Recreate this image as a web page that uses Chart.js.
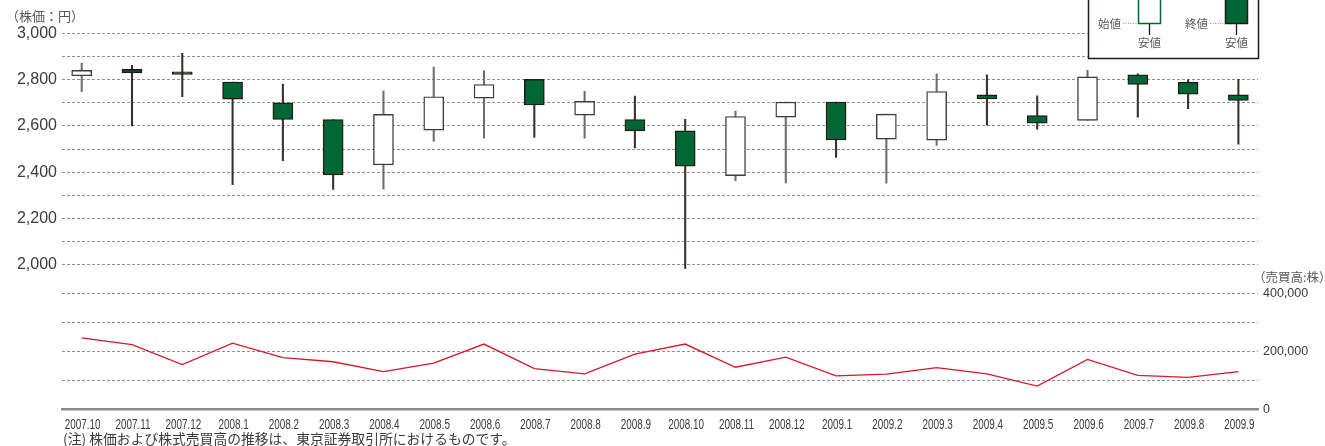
<!DOCTYPE html>
<html>
<head>
    <meta charset="utf-8">
    <title>株価および株式売買高の推移</title>
    <script src="https://cdn.jsdelivr.net/npm/chart.js@4.4.3/dist/chart.umd.min.js"></script>
    <style>
        body {
            margin: 0;
            background: #fff;
        }

        .wrap {
            width: 1325px;
            height: 446px;
            position: relative;
        }
    </style>
</head>

<body>
    <div class="wrap">
        <canvas id="stockchart"></canvas>
    </div>

    <script>
        // months on the x axis
        const months = ['2007.10', '2007.11', '2007.12', '2008.1', '2008.2', '2008.3', '2008.4', '2008.5',
            '2008.6', '2008.7', '2008.8', '2008.9', '2008.10', '2008.11', '2008.12', '2009.1',
            '2009.2', '2009.3', '2009.4', '2009.5', '2009.6', '2009.7', '2009.8', '2009.9']

        // share price (yen)
        const openPrice = [2817, 2844, 2834, 2790, 2700, 2628, 2432, 2582, 2720, 2801, 2647, 2628,
            2579, 2386, 2638, 2703, 2543, 2539, 2734, 2645, 2624, 2821, 2789, 2734]
        const closePrice = [2840, 2829, 2823, 2716, 2628, 2389, 2650, 2726, 2779, 2691, 2706, 2579,
            2426, 2641, 2703, 2540, 2651, 2749, 2717, 2612, 2812, 2779, 2737, 2710]
        const highPrice = [2872, 2862, 2914, 2790, 2781, 2628, 2751, 2854, 2838, 2801, 2750, 2729,
            2629, 2664, 2703, 2703, 2651, 2825, 2821, 2730, 2840, 2825, 2799, 2801]
        const lowPrice = [2748, 2600, 2726, 2347, 2450, 2326, 2327, 2533, 2547, 2551, 2547, 2505,
            1985, 2364, 2354, 2464, 2353, 2516, 2603, 2586, 2624, 2638, 2675, 2521]

        // trading volume (shares)
        const volume = [246000, 223000, 154000, 228000, 178000, 164000, 130000, 159000,
            225000, 140000, 122000, 190000, 225000, 145000, 180000, 115000,
            121000, 144000, 122000, 80000, 172000, 117000, 110000, 130000]

        // axis ticks
        const priceTicks = [2000, 2100, 2200, 2300, 2400, 2500, 2600, 2700, 2800, 2900, 3000]
        const volumeTicks = [0, 100000, 200000, 300000, 400000]

        const GREEN = '#006633'
        const GRID = '#8f8f8f'
        const TEXT = '#3e3a39'
        const JP = "'Noto Sans CJK JP', 'Noto Sans', sans-serif"

        const isUp = months.map((m, i) => closePrice[i] >= openPrice[i])

        const bodies = months.map((m, i) => ({ x: i, y: [openPrice[i], closePrice[i]] }))
        const wicks = months.map((m, i) => ({ x: i, y: [lowPrice[i], highPrice[i]] }))
        const volPoints = months.map((m, i) => ({ x: i, y: volume[i] }))

        const fmt = v => v.toLocaleString('en-US')

        // month labels are set in a condensed face in the original, so squeeze them
        const monthLabels = {
            id: 'monthLabels',
            afterDraw(chart) {
                const ctx = chart.ctx
                const xs = chart.scales.x
                ctx.save()
                ctx.fillStyle = TEXT
                ctx.font = "15px 'Liberation Sans', Arial, sans-serif"
                ctx.textAlign = 'center'
                ctx.textBaseline = 'middle'
                months.forEach((m, i) => {
                    ctx.save()
                    ctx.translate(xs.getPixelForValue(i) + 1, 425)
                    ctx.scale(0.66, 1)
                    ctx.fillText(m, 0, 0)
                    ctx.restore()
                })
                ctx.restore()
            }
        }

        // titles, footnote and the little legend box in the top right
        const extras = {
            id: 'extras',
            afterDraw(chart) {
                const ctx = chart.ctx
                ctx.save()

                ctx.fillStyle = '#595757'
                ctx.textBaseline = 'middle'
                ctx.textAlign = 'left'
                ctx.font = '13px ' + JP
                ctx.fillText('（株価：円）', 6, 16)
                ctx.font = '12.5px ' + JP
                ctx.fillText('（売買高:株）', 1253, 277)
                ctx.fillStyle = TEXT
                ctx.font = '13.8px ' + JP
                ctx.fillText('(注) 株価および株式売買高の推移は、東京証券取引所におけるものです。', 63, 439)

                // legend box
                ctx.fillStyle = '#fff'
                ctx.fillRect(1088, -10, 170, 68)
                ctx.strokeStyle = '#231815'
                ctx.lineWidth = 1.5
                ctx.strokeRect(1088.5, -10, 170, 68.5)

                // up candle
                ctx.fillStyle = '#fff'
                ctx.fillRect(1138.5, -10, 22, 33.5)
                ctx.strokeStyle = GREEN
                ctx.strokeRect(1138.5, -10, 22, 33.5)
                // down candle
                ctx.fillStyle = GREEN
                ctx.fillRect(1225.5, -10, 22, 33.5)
                ctx.strokeStyle = '#231815'
                ctx.strokeRect(1225.5, -10, 22, 33.5)

                ctx.lineWidth = 1.3
                ctx.beginPath()
                ctx.moveTo(1149.5, 24); ctx.lineTo(1149.5, 35)
                ctx.moveTo(1236.5, 24); ctx.lineTo(1236.5, 35)
                ctx.stroke()

                ctx.strokeStyle = '#e07a83'
                ctx.lineWidth = 1
                ctx.setLineDash([1, 1.5])
                ctx.beginPath()
                ctx.moveTo(1123, 23.5); ctx.lineTo(1138, 23.5)
                ctx.moveTo(1210, 23.5); ctx.lineTo(1225, 23.5)
                ctx.stroke()
                ctx.setLineDash([])

                ctx.fillStyle = '#595757'
                ctx.font = '11.5px ' + JP
                ctx.textAlign = 'right'
                ctx.fillText('始値', 1121, 23.5)
                ctx.fillText('終値', 1208, 23.5)
                ctx.textAlign = 'center'
                ctx.fillText('安値', 1149.5, 43)
                ctx.fillText('安値', 1236.5, 43)

                ctx.restore()
            }
        }

        const chart = new Chart(document.getElementById('stockchart'), {
            data: {
                datasets: [
                    {
                        type: 'bar',
                        label: 'body',
                        data: bodies,
                        order: 0,
                        grouped: false,
                        barThickness: 20,
                        borderSkipped: false,
                        borderWidth: 1.4,
                        backgroundColor: isUp.map(u => u ? '#ffffff' : GREEN),
                        borderColor: isUp.map(u => u ? '#3e3a39' : '#231815'),
                        yAxisID: 'y'
                    },
                    {
                        type: 'bar',
                        label: 'wick',
                        data: wicks,
                        order: 1,
                        grouped: false,
                        barThickness: 1.4,
                        borderWidth: 0,
                        backgroundColor: isUp.map(u => u ? '#6f6c6c' : '#3a2f2d'),
                        yAxisID: 'y'
                    },
                    {
                        type: 'line',
                        label: 'volume',
                        data: volPoints,
                        order: 2,
                        borderColor: '#d7182a',
                        borderWidth: 1.3,
                        pointRadius: 0,
                        tension: 0,
                        yAxisID: 'y2'
                    }
                ]
            },
            options: {
                responsive: true,
                maintainAspectRatio: false,
                animation: false,
                layout: {
                    padding: { top: 33.3, left: 0, right: 0, bottom: 0 }
                },
                plugins: {
                    legend: { display: false },
                    tooltip: { enabled: false }
                },
                scales: {
                    x: {
                        type: 'linear',
                        offset: false,
                        min: -0.392,
                        max: 23.39,
                        afterBuildTicks: s => { s.ticks = months.map((m, i) => ({ value: i })) },
                        afterFit: s => { s.height = 36.7 },
                        grid: { display: false, drawTicks: false },
                        border: { display: true, color: '#8a8a8a', width: 2.5 },
                        ticks: { display: false }
                    },
                    y: {
                        position: 'left',
                        min: 1377.2,
                        max: 3000,
                        afterBuildTicks: s => { s.ticks = priceTicks.map(v => ({ value: v })) },
                        afterFit: s => { s.width = 62 },
                        grid: { color: GRID, lineWidth: 1, drawTicks: false },
                        border: { display: false, dash: [3, 2] },
                        ticks: {
                            autoSkip: false,
                            padding: 5,
                            color: TEXT,
                            font: { family: "'Liberation Sans', Arial, sans-serif", size: 16 },
                            callback: v => v % 200 === 0 ? fmt(v) : ''
                        }
                    },
                    y2: {
                        position: 'right',
                        min: 0,
                        max: 1296552,
                        afterBuildTicks: s => { s.ticks = volumeTicks.map(v => ({ value: v })) },
                        afterFit: s => { s.width = 67 },
                        grid: {
                            color: c => c.tick && c.tick.value === 0 ? 'rgba(0,0,0,0)' : GRID,
                            lineWidth: 1,
                            drawTicks: false
                        },
                        border: { display: false, dash: [3, 2] },
                        ticks: {
                            autoSkip: false,
                            padding: 5,
                            color: TEXT,
                            font: { family: "'Liberation Sans', Arial, sans-serif", size: 12.5 },
                            callback: v => v % 200000 === 0 ? fmt(v) : ''
                        }
                    }
                }
            },
            plugins: [monthLabels, extras]
        })
    </script>
</body>
</html>
